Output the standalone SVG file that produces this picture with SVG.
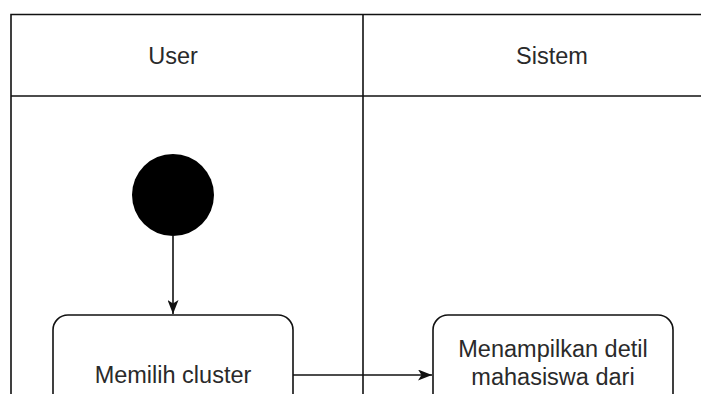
<svg xmlns="http://www.w3.org/2000/svg" width="701" height="394" viewBox="0 0 701 394">
<style>
.ln{stroke:#111;stroke-width:1.6;fill:none}
.box{fill:#fff;stroke:#111;stroke-width:1.6}
.t{font-family:"Liberation Sans",Arial,sans-serif;font-size:23.5px;fill:#2a2a2a;text-anchor:middle}
</style>
<defs>
<marker id="ah" viewBox="0 0 14 11" refX="14" refY="5.5" markerWidth="14" markerHeight="11" markerUnits="userSpaceOnUse" orient="auto">
<path d="M0,0 L14,5.5 L0,11 L3.5,5.5 Z" fill="#111"/>
</marker>
</defs>
<rect width="701" height="394" fill="#fff"/>
<g id="lanes">
<path class="ln" d="M11,400 V14.5 H710"/>
<path class="ln" d="M363,14.5 V400"/>
<path class="ln" d="M11,96 H710"/>
<text class="t" x="173" y="64">User</text>
<text class="t" x="552" y="64">Sistem</text>
</g>
<g id="start">
<circle cx="173" cy="195" r="41" fill="#000"/>
</g>
<g id="node1">
<rect class="box" x="53" y="315" width="240" height="120" rx="15"/>
<text class="t" x="173" y="383">Memilih cluster</text>
</g>
<g id="node2">
<rect class="box" x="433" y="315" width="240" height="120" rx="15"/>
<text class="t" x="553" y="357">Menampilkan detil</text>
<text class="t" x="553" y="385">mahasiswa dari</text>
</g>
<g id="connectors">
<path class="ln" d="M173,236 V314" marker-end="url(#ah)"/>
<path class="ln" d="M293,375 H432" marker-end="url(#ah)"/>
</g>
</svg>
